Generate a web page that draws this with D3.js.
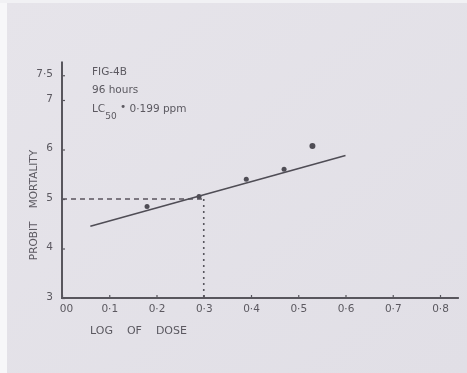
<!DOCTYPE html>
<html>
<head>
<meta charset="utf-8">
<script src="https://cdn.jsdelivr.net/npm/d3@7"></script>
<style>
  body { margin: 0; background: #e3e1e8; }
  svg { display: block; }
  text { font-family: "DejaVu Sans", sans-serif; fill: #5b5960; }
</style>
</head>
<body>
<div id="chart"></div>
<script>

// values
var xTicks = [0, 0.1, 0.2, 0.3, 0.4, 0.5, 0.6, 0.7, 0.8],
    xTickLabels = ["00", "0·1", "0·2", "0·3", "0·4", "0·5", "0·6", "0·7", "0·8"],
    yTicks = [3, 4, 5, 6, 7, 7.5],
    yTickLabels = ["3", "4", "5", "6", "7", "7·5"];

// observed points: log of dose, probit mortality
var logDose = [0.18, 0.29, 0.39, 0.47, 0.53],
    probit = [4.85, 5.05, 5.4, 5.6, 6.07];

// fitted regression line ends
var fitX = [0.06, 0.6],
    fitY = [4.45, 5.88];

// LC50 guide
var lcX = 0.3, lcY = 5;

var annotation = ["FIG-4B", "96 hours"];

var width = 467, height = 373;

var svg = d3.select("#chart")
    .append("svg")
        .attr("width", width)
        .attr("height", height);

// paper background
var grad = svg.append("defs").append("linearGradient")
    .attr("id", "paper")
    .attr("x1", 0).attr("y1", 0).attr("x2", 1).attr("y2", 1);
grad.append("stop").attr("offset", 0).attr("stop-color", "#e6e4ea");
grad.append("stop").attr("offset", 1).attr("stop-color", "#e1dfe6");

svg.select("defs").append("filter")
    .attr("id", "soft")
    .append("feGaussianBlur")
        .attr("stdDeviation", 0.45);

svg.append("rect")
    .attr("width", width).attr("height", height)
    .attr("fill", "url(#paper)");
svg.append("rect")
    .attr("width", 7).attr("height", height)
    .attr("fill", "#f7f7f9");
svg.append("rect")
    .attr("width", width).attr("height", 3)
    .attr("fill", "#f1f1f4");

var ink = "#58565d";

var g = svg.append("g").attr("filter", "url(#soft)");

// scales
var xScale = d3.scaleLinear().domain([0, 0.8]).range([62, 440]);
var yScale = d3.scaleLinear().domain([3, 7.5]).range([298, 75.25]);

// axes
var xAxis = d3.axisBottom(xScale)
    .tickValues(xTicks)
    .tickSize(-3)
    .tickPadding(7)
    .tickFormat(function(d, i) { return xTickLabels[i]; });

var yAxis = d3.axisLeft(yScale)
    .tickValues(yTicks)
    .tickSize(-3)
    .tickPadding(9)
    .tickFormat(function(d, i) { return yTickLabels[i]; });

var gx = g.append("g")
    .attr("transform", "translate(0," + yScale(3) + ")")
    .call(xAxis);
gx.select(".domain").remove();
gx.append("line")
    .attr("x1", xScale(0)).attr("x2", xScale(0.84))
    .attr("stroke", ink).attr("stroke-width", 2);

var gy = g.append("g")
    .attr("transform", "translate(" + xScale(0) + ",0)")
    .call(yAxis);
gy.select(".domain").remove();
gy.append("line")
    .attr("y1", yScale(3) + 1).attr("y2", yScale(7.78))
    .attr("stroke", ink).attr("stroke-width", 2);

g.selectAll(".tick line").attr("stroke", ink).attr("stroke-width", 1.2);
g.selectAll(".tick text")
    .style("font-size", "10.5px")
    .style("fill", "#5b5960")
    .attr("font-family", null);
gy.selectAll(".tick text").attr("dy", "0.1em");
gx.selectAll(".tick text").attr("dx", function(d) { return d === 0 ? 4 : 0; });

// LC50 guide lines
g.append("line")
    .attr("x1", xScale(0)).attr("x2", xScale(lcX))
    .attr("y1", yScale(lcY)).attr("y2", yScale(lcY))
    .attr("stroke", ink).attr("stroke-width", 1.6)
    .attr("stroke-dasharray", "5,4");

g.append("line")
    .attr("x1", xScale(lcX)).attr("x2", xScale(lcX))
    .attr("y1", yScale(lcY)).attr("y2", yScale(3))
    .attr("stroke", ink).attr("stroke-width", 1.6)
    .attr("stroke-dasharray", "2,4");

// fitted line
var valueline = d3.line()
    .x(function(d) { return xScale(d[0]); })
    .y(function(d) { return yScale(d[1]); });

g.append("path")
    .attr("d", valueline(d3.zip(fitX, fitY)))
    .attr("fill", "none")
    .attr("stroke", "#4f4d55")
    .attr("stroke-width", 1.6);

// observed points
g.selectAll(".pt")
    .data(d3.zip(logDose, probit))
    .enter().append("circle")
        .attr("class", "pt")
        .attr("cx", function(d) { return xScale(d[0]); })
        .attr("cy", function(d) { return yScale(d[1]); })
        .attr("r", function(d, i) { return i === logDose.length - 1 ? 3 : 2.5; })
        .attr("fill", "#4f4d55");

// annotation
g.selectAll(".note")
    .data(annotation)
    .enter().append("text")
        .attr("class", "note")
        .attr("x", 92)
        .attr("y", function(d, i) { return 75 + i * 18; })
        .style("font-size", "10.5px")
        .text(function(d) { return d; });

var lc = g.append("text")
    .attr("x", 92).attr("y", 112)
    .style("font-size", "10.5px");
lc.append("tspan").text("LC");
lc.append("tspan").attr("dy", 7).style("font-size", "9px").text("50");
lc.append("tspan").attr("dy", -9).text(" •");
lc.append("tspan").attr("dy", 2).text(" 0·199 ppm");

// axis titles
g.append("text")
    .attr("transform", "translate(37,205) rotate(-90)")
    .attr("text-anchor", "middle")
    .style("font-size", "10.5px")
    .style("white-space", "pre")
    .text("PROBIT    MORTALITY");

g.append("text")
    .attr("x", 90).attr("y", 334)
    .style("font-size", "11px")
    .style("white-space", "pre")
    .text("LOG    OF    DOSE");

</script>
</body>
</html>
